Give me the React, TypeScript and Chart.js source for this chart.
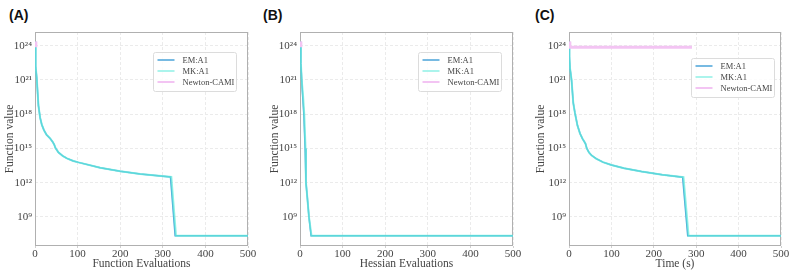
import React, { useEffect, useRef } from "react";
import { Chart, registerables } from "chart.js";
Chart.register(...registerables);

const seriesLabels = ["EM:A1", "MK:A1", "Newton-CAMI"];
const yTickValues = [1e9, 1e12, 1e15, 1e18, 1e21, 1e24];
const yTickLabels = ["10⁹", "10¹²", "10¹⁵", "10¹⁸", "10²¹", "10²⁴"];
const xTickValues = [0, 100, 200, 300, 400, 500];

// Panel A: Function Evaluations
const aEmX = [0, 1, 2, 4, 8, 12, 16, 21, 27, 35, 42, 45, 48, 55, 65, 75, 90, 102, 153, 200, 247, 318, 329, 500];
const aEmY = [2.2e24, 1e23, 1.6e22, 1.6e21, 6e18, 5e17, 1.2e17, 4e16, 1.6e16, 8e15, 3.5e15, 2.2e15, 1.1e15, 4.5e14, 2.2e14, 1.35e14, 8e13, 6e13, 2e13, 1e13, 5.8e12, 3.2e12, 2.2e7, 2.2e7];
const aMkX = [0, 1, 2, 4, 8, 12, 16, 21, 27, 35, 42, 45, 48, 55, 65, 75, 90, 102, 153, 200, 247, 320, 331, 500];
const aMkY = [2.2e24, 1e23, 1.6e22, 1.6e21, 6e18, 5e17, 1.2e17, 4e16, 1.6e16, 8e15, 3.5e15, 2.2e15, 1.1e15, 4.5e14, 2.2e14, 1.35e14, 8e13, 6e13, 2e13, 1e13, 5.8e12, 3.2e12, 2.2e7, 2.2e7];
const aNewtonX = [0, 2];
const aNewtonY = [2.4e24, 7.5e23];

// Panel B: Hessian Evaluations
const bEmX = [0, 2, 4, 6, 9, 12, 14, 17, 21, 26, 500];
const bEmY = [2.2e24, 3e22, 1e21, 5e19, 1e18, 1e15, 1e12, 6e10, 1e9, 2.2e7, 2.2e7];
const bMkX = [0, 2, 4, 7, 10, 13, 14, 17, 21, 27, 500];
const bMkY = [2.2e24, 3e22, 1e21, 5e19, 1e18, 1e15, 1e12, 6e10, 1e9, 2.2e7, 2.2e7];
const bNewtonX = [0, 2];
const bNewtonY = [2.4e24, 7.5e23];

// Panel C: Time (s)
const cEmX = [0, 1, 2.5, 6, 10, 14, 20, 26, 32, 36, 39, 42, 47, 53, 64, 80, 100, 130, 171, 220, 268, 280, 500];
const cEmY = [2.2e24, 1e23, 1e22, 1e21, 1e19, 1.3e18, 1e17, 2e16, 7e15, 4e15, 2.5e15, 1e15, 4.5e14, 2.5e14, 1.25e14, 6.3e13, 3.5e13, 1.8e13, 9.3e12, 5e12, 3e12, 2.2e7, 2.2e7];
const cMkX = [0, 1, 2.5, 6, 10, 14, 20, 26, 32, 36, 39, 42, 47, 53, 64, 80, 100, 130, 171, 220, 270, 282, 500];
const cMkY = [2.2e24, 1e23, 1e22, 1e21, 1e19, 1.3e18, 1e17, 2e16, 7e15, 4e15, 2.5e15, 1e15, 4.5e14, 2.5e14, 1.25e14, 6.3e13, 3.5e13, 1.8e13, 9.3e12, 5e12, 3e12, 2.2e7, 2.2e7];
const cNewtonX = [0, 2, 290];
const cNewtonY = [2.4e24, 7.4e23, 7.4e23];

const EM_COLOR = "#4aa3d8";
const MK_COLOR = "rgba(100,235,220,0.72)";
const NEWTON_COLOR = "#f3c4f3";
const SERIF = "'Liberation Serif', 'DejaVu Serif', serif";
const TEXT = "#444444";
const GRID = "#ebebeb";

const pts = (xs: number[], ys: number[]) => xs.map((x, i) => ({ x, y: ys[i] }));

const framePlugin = {
  id: "frameBox",
  beforeDatasetsDraw(chart: any) {
    const { ctx, chartArea } = chart;
    const l = Math.round(chartArea.left) + 0.5;
    const t = Math.round(chartArea.top) + 0.5;
    const r = Math.round(chartArea.right) - 0.5;
    const b = Math.round(chartArea.bottom) - 0.5;
    ctx.save();
    ctx.strokeStyle = "#b0b0b0";
    ctx.lineWidth = 1;
    ctx.strokeRect(l, t, r - l, b - t);
    ctx.restore();
  },
};

const legendPlugin = {
  id: "insideLegend",
  afterDraw(chart: any, _args: any, opts: any) {
    const { ctx, chartArea } = chart;
    const w = 83;
    const h = 39;
    const x0 = Math.round(chartArea.right - opts.dx - w) + 0.5;
    const y0 = Math.round(chartArea.top + opts.dy) + 0.5;
    ctx.save();
    ctx.beginPath();
    if (ctx.roundRect) ctx.roundRect(x0, y0, w, h, 2);
    else ctx.rect(x0, y0, w, h);
    ctx.fillStyle = "rgba(255,255,255,0.85)";
    ctx.fill();
    ctx.strokeStyle = "#dcdcdc";
    ctx.lineWidth = 1;
    ctx.stroke();
    ctx.font = `8.5px ${SERIF}`;
    ctx.textBaseline = "middle";
    ctx.fillStyle = TEXT;
    chart.data.datasets.forEach((ds: any, i: number) => {
      const y = Math.round(y0 + 7 + i * 11);
      ctx.beginPath();
      ctx.strokeStyle = ds.borderColor;
      ctx.lineWidth = i === 2 ? 2 : 1.5;
      ctx.moveTo(x0 + 4, y);
      ctx.lineTo(x0 + 21, y);
      ctx.stroke();
      ctx.fillText(ds.label, x0 + 29, y + 0.5);
    });
    ctx.restore();
  },
};

type PanelProps = {
  left: number;
  width: number;
  yAxisWidth: number;
  padRight: number;
  xTitle: string;
  tag: string;
  tagLeft: number;
  legendDx: number;
  legendDy: number;
  em: { x: number; y: number }[];
  mk: { x: number; y: number }[];
  newton: { x: number; y: number }[];
};

function Panel(p: PanelProps) {
  const ref = useRef<HTMLCanvasElement>(null);
  useEffect(() => {
    if (!ref.current) return;
    const chart = new Chart(ref.current, {
      type: "line",
      data: {
        datasets: [
          { label: seriesLabels[0], data: p.em, borderColor: EM_COLOR, borderWidth: 1.5, pointRadius: 0, tension: 0, order: 3 },
          { label: seriesLabels[1], data: p.mk, borderColor: MK_COLOR, borderWidth: 2, pointRadius: 0, tension: 0, order: 2 },
          { label: seriesLabels[2], data: p.newton, borderColor: NEWTON_COLOR, borderWidth: 3, pointRadius: 0, tension: 0, order: 1 },
        ],
      },
      options: {
        responsive: false,
        animation: false,
        events: [],
        layout: { padding: { top: 32, right: p.padRight, left: 0, bottom: 0 } },
        plugins: {
          legend: { display: false },
          tooltip: { enabled: false },
          insideLegend: { dx: p.legendDx, dy: p.legendDy },
        } as any,
        scales: {
          x: {
            type: "linear",
            min: 0,
            max: 500,
            afterBuildTicks: (s: any) => {
              s.ticks = xTickValues.map((v) => ({ value: v }));
            },
            afterFit: (s: any) => {
              s.height = 27;
            },
            grid: { color: GRID, drawTicks: true, tickLength: 2, tickColor: "#d0d0d0" } as any,
            border: { display: false, dash: [3, 2] },
            ticks: { color: TEXT, font: { family: SERIF, size: 11 }, padding: 0, maxRotation: 0, autoSkip: false },
            title: { display: true, text: p.xTitle, color: TEXT, font: { family: SERIF, size: 11.5 }, padding: { top: 0, bottom: 2 } },
          },
          y: {
            type: "logarithmic",
            min: 2.8e6,
            max: 1.6e25,
            afterBuildTicks: (s: any) => {
              s.ticks = yTickValues.map((v) => ({ value: v }));
            },
            afterFit: (s: any) => {
              s.width = p.yAxisWidth;
            },
            grid: { color: GRID, drawTicks: false } as any,
            border: { display: false, dash: [3, 2] },
            ticks: {
              color: TEXT,
              font: { family: SERIF, size: 11 },
              padding: 3,
              autoSkip: false,
              callback: (v: any) => {
                const i = yTickValues.indexOf(Number(v));
                return i >= 0 ? yTickLabels[i] : "";
              },
            },
            title: { display: true, text: "Function value", color: TEXT, font: { family: SERIF, size: 11.5 }, padding: { top: 3, bottom: 0 } },
          },
        },
      },
      plugins: [framePlugin, legendPlugin],
    } as any);
    return () => chart.destroy();
  }, []);
  return (
    <>
      <div
        style={{
          position: "absolute",
          left: p.tagLeft,
          top: 6,
          fontFamily: "'Liberation Sans', Arial, sans-serif",
          fontWeight: "bold",
          fontSize: 14,
          lineHeight: "18px",
          color: "#111",
        }}
      >
        {p.tag}
      </div>
      <canvas
        ref={ref}
        width={p.width}
        height={273}
        style={{ position: "absolute", left: p.left, top: 0, width: p.width, height: 273 }}
      />
    </>
  );
}

export default function App() {
  return (
    <div style={{ position: "absolute", left: 0, top: 0, width: 793, height: 273, background: "#fff", overflow: "hidden" }}>
      <Panel left={0} width={262} yAxisWidth={35} padRight={14} xTitle="Function Evaluations" tag="(A)" tagLeft={9}
        legendDx={12} legendDy={20} em={pts(aEmX, aEmY)} mk={pts(aMkX, aMkY)} newton={pts(aNewtonX, aNewtonY)} />
      <Panel left={265} width={262} yAxisWidth={35} padRight={14} xTitle="Hessian Evaluations" tag="(B)" tagLeft={263}
        legendDx={12} legendDy={20} em={pts(bEmX, bEmY)} mk={pts(bMkX, bMkY)} newton={pts(bNewtonX, bNewtonY)} />
      <Panel left={531} width={262} yAxisWidth={38} padRight={12} xTitle="Time (s)" tag="(C)" tagLeft={535}
        legendDx={7} legendDy={26} em={pts(cEmX, cEmY)} mk={pts(cMkX, cMkY)} newton={pts(cNewtonX, cNewtonY)} />
    </div>
  );
}
